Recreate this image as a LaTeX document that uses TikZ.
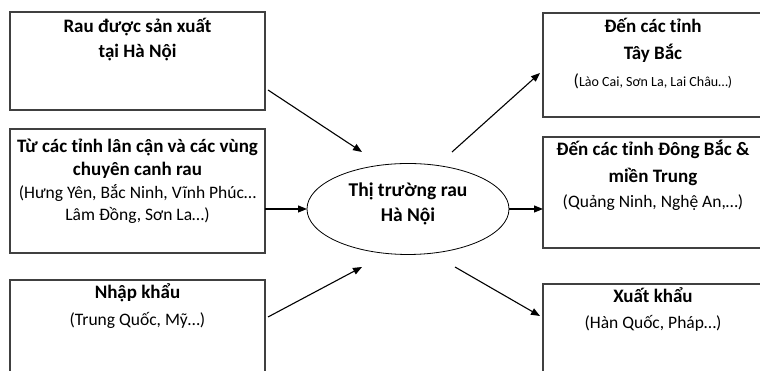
\documentclass[tikz,border=0pt]{standalone}
\usepackage{fontspec}
\setmainfont{Carlito}
\usetikzlibrary{arrows.meta, positioning, calc, shapes.geometric}
\newcommand{\subfont}{\fontsize{17.5}{25}\selectfont}
\newcommand{\smallfont}{\fontsize{14}{25}\selectfont}

\begin{document}
\begin{tikzpicture}[x=1pt, y=1pt,
    source/.style={draw=black!75, line width=1.2pt, minimum width=255pt, anchor=north west, inner sep=0pt, outer sep=0pt},
    target/.style={draw=black!75, line width=1.2pt, minimum width=220pt, anchor=north west, inner sep=0pt, outer sep=0pt},
    hub/.style={draw, ellipse, line width=0.8pt, minimum width=202pt, minimum height=91pt, inner sep=0pt, outer sep=0pt},
    caption/.style={align=center, inner sep=0pt, anchor=base, font=\fontsize{19}{25}\selectfont\bfseries},
    flow/.style={-{Triangle[length=9pt, width=7pt]}, line width=1.1pt}
  ]
    \useasboundingbox (0,0) rectangle (760,371);

    \node[source, minimum height=98pt] (src1) at (10,359) {};
    \node[source, minimum height=124pt] (src2) at (10,242) {};
    \node[source, minimum height=100pt] (src3) at (10,91) {};
    \node[target, minimum height=104pt] (dst1) at (543,358) {};
    \node[target, minimum height=111pt] (dst2) at (543,234) {};
    \node[target, minimum height=100pt] (dst3) at (543,87) {};
    \node[hub] (market) at (408,162) {};

    \node[caption] (srctext1) at ($(src1.north)+(0,-46)$) {Rau được sản xuất\\tại Hà Nội};
    \node[caption] (srctext2) at ($(src2.north)+(0,-91.5)$) {Từ các tỉnh lân cận và các vùng\\[-2pt]chuyên canh rau\\[-2.5pt]{\subfont\mdseries (Hưng Yên, Bắc Ninh, Vĩnh Phúc…}\\[-3pt]{\subfont\mdseries Lâm Đồng, Sơn La…)}};
    \node[caption] (srctext3) at ($(src3.north)+(0,-45.5)$) {Nhập khẩu\\[1.5pt]{\subfont\mdseries (Trung Quốc, Mỹ…)}};
    \node[caption] (dsttext1) at ($(dst1.north)+(0,-73.5)$) {Đến các tỉnh\\[2pt]Tây Bắc\\[1.5pt]{\subfont\mdseries (}{\smallfont\mdseries Lào Cai, Sơn La, Lai Châu…)}};
    \node[caption] (dsttext2) at ($(dst2.north)+(0,-70.5)$) {Đến các tỉnh Đông Bắc \&\\[2pt]miền Trung\\[-0.5pt]{\subfont\mdseries (Quảng Ninh, Nghệ An,…)}};
    \node[caption] (dsttext3) at ($(dst3.north)+(0,-44.5)$) {Xuất khẩu\\[0.5pt]{\subfont\mdseries (Hàn Quốc, Pháp…)}};
    \node[caption, font=\fontsize{19.5}{25}\selectfont\bfseries] (hubtext) at ($(market.center)+(0,-12.5)$) {Thị trường rau\\Hà Nội};

    \coordinate (in1) at ($(market.center)+(-46,57)$);
    \coordinate (in3) at ($(market.center)+(-46,-58)$);
    \coordinate (out1) at ($(market.center)+(44,57)$);
    \coordinate (out3) at ($(market.center)+(47,-58)$);

    \draw[flow] ($(src1.east)+(3,-29)$) -- (in1);
    \draw[flow] (src2.east |- market.west) -- (market.west);
    \draw[flow] ($(src3.north east)+(3,-37)$) -- (in3);
    \draw[flow] (out1) -- ($(dst1.west)+(-3,-8)$);
    \draw[flow] (market.east) -- (dst2.west |- market.east);
    \draw[flow] (out3) -- ($(dst3.north west)+(-3,-32)$);
\end{tikzpicture}
\end{document}
